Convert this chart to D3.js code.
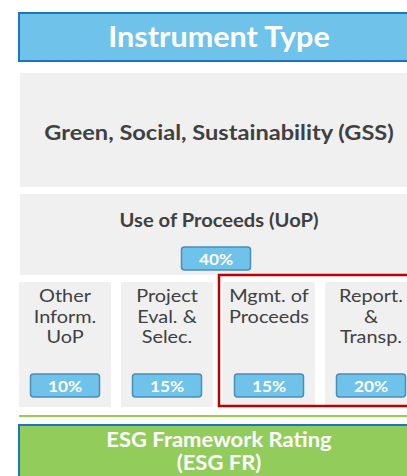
<!DOCTYPE html>
<html>
<head>
<meta charset="utf-8">
<script src="https://cdn.jsdelivr.net/npm/d3@7/dist/d3.min.js"></script>
<style>
  body { margin: 0; background: #fff; }
  text { font-family: Lato, "Open Sans", sans-serif; }
</style>
</head>
<body>
<div id="chart"></div>
<script>
// Data
const title = "Instrument Type";
const gssLabel = "Green, Social, Sustainability (GSS)";
const uopLabel = "Use of Proceeds (UoP)";
const uopShare = 40;
const components = ["Other|Inform.|UoP", "Project|Eval. &|Selec.", "Mgmt. of|Proceeds", "Report.|&|Transp."];
const shares = [10, 15, 15, 20];
const highlighted = ["Mgmt. of|Proceeds", "Report.|&|Transp."];
const footerLines = ["ESG Framework Rating", "(ESG FR)"];

const width = 407, height = 476;
const svg = d3.select("#chart").append("svg")
    .attr("width", width)
    .attr("height", height);

const cx = 219;
const blue = "#6fc3ea", darkBlue = "#1a75c4", grey = "#f0f0f0", textDark = "#404040";

// text stretched a bit sideways, like the source image
function label(parent, x, y, str, size, weight, fill, sx) {
    return parent.append("text")
        .attr("transform", `translate(${x},${y}) scale(${sx},1)`)
        .attr("text-anchor", "middle")
        .attr("font-size", size).attr("font-weight", weight)
        .attr("fill", fill)
        .text(str);
}

// header
svg.append("rect")
    .attr("x", 19).attr("y", 13).attr("width", 410).attr("height", 48)
    .attr("fill", blue).attr("stroke", darkBlue).attr("stroke-width", 2);
label(svg, cx, 47, title, 28, "bold", "#fff", 1.09);

// GSS box
svg.append("rect")
    .attr("x", 20).attr("y", 73).attr("width", 400).attr("height", 114)
    .attr("fill", grey);
label(svg, cx, 140, gssLabel, 20, "bold", textDark, 1.18);

// UoP box
svg.append("rect")
    .attr("x", 20).attr("y", 194).attr("width", 400).attr("height", 81)
    .attr("fill", grey);
label(svg, cx, 227, uopLabel, 18, "bold", textDark, 1.12);

function badge(x, y, value) {
    svg.append("rect")
        .attr("x", x - 34.5).attr("y", y).attr("width", 69).attr("height", 23)
        .attr("rx", 3)
        .attr("fill", blue).attr("stroke", "#4a8db5").attr("stroke-width", 1.5);
    label(svg, x, y + 18, value + "%", 16, "bold", "#fff", 1.08);
}
badge(216, 247, uopShare);

// component boxes
const x = d3.scaleBand()
    .domain(components)
    .range([19, 417])
    .paddingInner(0.098);

const g = svg.append("g");
components.forEach((c, i) => {
    const x0 = x(c);
    const mid = x0 + x.bandwidth() / 2;
    g.append("rect")
        .attr("x", x0).attr("y", 282)
        .attr("width", x.bandwidth()).attr("height", 125)
        .attr("fill", grey);
    c.split("|").forEach((l, j) => {
        label(g, mid, 302 + j * 20.5, l, 17, "normal", textDark, 1.17);
    });
    badge(mid, 374, shares[i]);
});

// highlight frame
const hx0 = x(highlighted[0]) - 4;
svg.append("rect")
    .attr("x", hx0).attr("y", 275)
    .attr("width", 430 - hx0).attr("height", 131)
    .attr("fill", "none")
    .attr("stroke", "#c00000").attr("stroke-width", 2.5);

// green separator
svg.append("line")
    .attr("x1", 19).attr("x2", 420)
    .attr("y1", 416).attr("y2", 416)
    .attr("stroke", "#92d050").attr("stroke-width", 2);

// footer box
svg.append("rect")
    .attr("x", 19).attr("y", 425).attr("width", 410).attr("height", 60)
    .attr("fill", "#92cd5c").attr("stroke", darkBlue).attr("stroke-width", 2);
footerLines.forEach((l, j) => {
    label(svg, cx, 447 + j * 23, l, 20, "bold", "#fff", 1.1);
});
</script>
</body>
</html>
